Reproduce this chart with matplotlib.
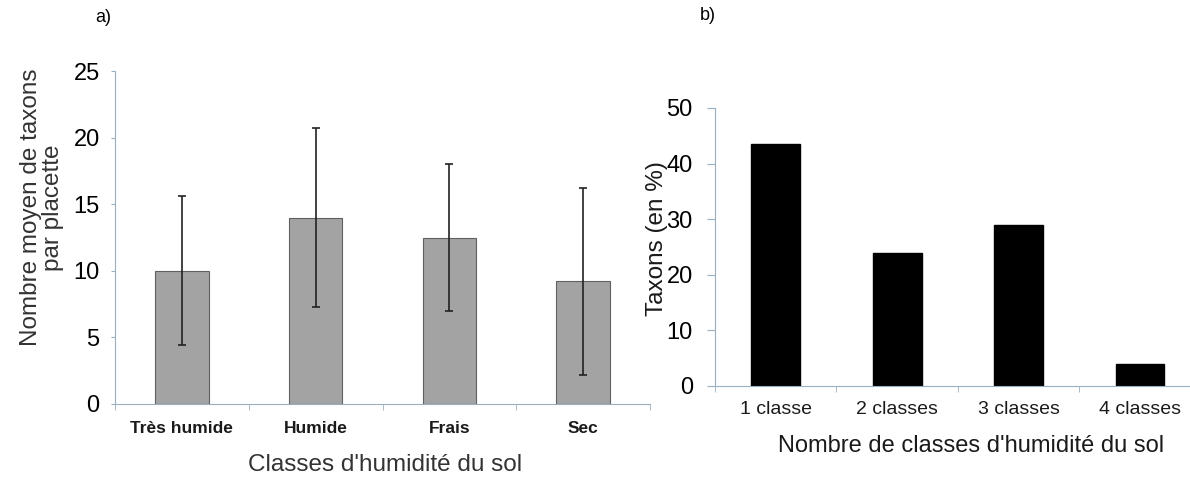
import numpy as np
import matplotlib.pyplot as plt

plt.rcParams["font.family"] = ["Liberation Sans", "DejaVu Sans"]

# ---------------- Data ----------------
humidity_classes = ["Très humide", "Humide", "Frais", "Sec"]
mean_taxa = [10.0, 14.0, 12.5, 9.2]
sd_taxa = [5.6, 6.7, 5.5, 7.0]

n_classes = ["1 classe", "2 classes", "3 classes", "4 classes"]
taxa_pct = [43.6, 23.9, 28.9, 4.0]

spine_col = "#9ab0c0"

fig = plt.figure(figsize=(11.9, 4.8), dpi=100)

# ---------------- Panel a ----------------
ax1 = fig.add_axes([115/1190, 1-404/480, 535/1190, 333/480])
x1 = np.arange(len(humidity_classes))
ax1.bar(x1, mean_taxa, width=0.4, color="#a3a3a3", edgecolor="#606060", linewidth=0.8)
ax1.errorbar(x1, mean_taxa, yerr=sd_taxa, fmt="none", ecolor="#222222",
             elinewidth=1.2, capsize=3, capthick=1.2)
ax1.set_xlim(-0.5, 3.5)
ax1.set_ylim(0, 25)
ax1.set_yticks([0, 5, 10, 15, 20, 25])
ax1.set_xticks(x1)
ax1.set_xticklabels(humidity_classes, fontsize=12.5, fontweight="bold", color="#1a1a1a")
ax1.set_xticks(np.arange(-0.5, 4, 1), minor=True)
ax1.tick_params(axis="x", which="major", length=0, pad=12)
ax1.tick_params(axis="x", which="minor", length=4, color=spine_col)
ax1.tick_params(axis="y", length=3, color=spine_col, labelsize=17, pad=8)
ax1.set_ylabel("Nombre moyen de taxons\npar placette", fontsize=17.5, color="#333333",
               linespacing=1.0)
ax1.yaxis.set_label_coords(-0.095, 0.59)
ax1.set_xlabel("Classes d'humidité du sol", fontsize=17.5, color="#333333")
ax1.xaxis.set_label_coords(0.505, -0.15)
for s in ["top", "right"]:
    ax1.spines[s].set_visible(False)
for s in ["left", "bottom"]:
    ax1.spines[s].set_color(spine_col)
fig.text(95/1190, 1-18/480, "a)", fontsize=13, va="center", ha="left")

# ---------------- Panel b ----------------
ax2 = fig.add_axes([715/1190, 1-386/480, 475/1190, 278/480])
x2 = np.arange(len(n_classes))
ax2.bar(x2, taxa_pct, width=0.4, color="black", edgecolor="black")
ax2.set_xlim(-0.5, 3.41)
ax2.set_ylim(0, 50)
ax2.set_yticks([0, 10, 20, 30, 40, 50])
ax2.set_xticks(x2)
ax2.set_xticklabels(n_classes, fontsize=14, color="#1a1a1a")
ax2.set_xticks(np.arange(-0.5, 3.5, 1), minor=True)
ax2.tick_params(axis="x", which="major", length=0, pad=11)
ax2.tick_params(axis="x", which="minor", length=4, color=spine_col)
ax2.tick_params(axis="y", length=6, color=spine_col, labelsize=17, pad=10)
ax2.set_ylabel("Taxons (en %)", fontsize=17.5, color="#1a1a1a")
ax2.yaxis.set_label_coords(-0.1, 0.53)
ax2.set_xlabel("Nombre de classes d'humidité du sol", fontsize=17, color="#1a1a1a")
ax2.xaxis.set_label_coords(0.54, -0.175)
for s in ["top", "right"]:
    ax2.spines[s].set_visible(False)
for s in ["left", "bottom"]:
    ax2.spines[s].set_color(spine_col)
fig.text(700/1190, 1-16/480, "b)", fontsize=13, va="center", ha="left")

fig.savefig("out.png", dpi=100)
